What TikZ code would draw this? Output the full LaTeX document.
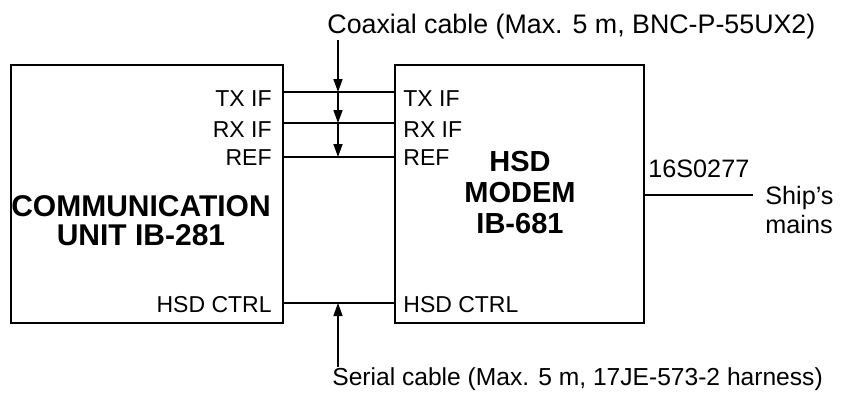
\documentclass[tikz,border=0pt]{standalone}
\usepackage{fontspec}
\setmainfont{Liberation Sans}
\usetikzlibrary{arrows.meta}

\begin{document}
\begin{tikzpicture}[x=0.5pt,y=-0.5pt,
	box/.style={draw,line width=1pt,inner sep=0pt},
	wire/.style={line width=0.8pt},
	tip/.style={wire,-{Triangle[width=4.5pt,length=6.5pt]}},
	port/.style={font=\fontsize{11.5}{14}\selectfont,inner sep=0pt},
	note/.style={font=\fontsize{12.6}{14.5}\selectfont,inner sep=0pt},
	title/.style={font=\fontsize{14.5}{15.5}\selectfont\bfseries,align=center,inner sep=0pt}]
	\useasboundingbox (0,0) rectangle (863,396);
	% units
	\node[box,minimum width=136pt,minimum height=129pt] (cu) at (147,194) {};
	\node[box,minimum width=124.5pt,minimum height=129pt] (md) at (519.5,194) {};
	\node[title,font=\fontsize{15}{14.5}\selectfont\bfseries] (cutitle) at (141,221) {COMMUNICATION\\UNIT IB-281};
	\node[title] (mdtitle) at (520,193) {HSD\\MODEM\\IB-681};
	% ports
	\foreach \p/\txt/\y/\b in {tx/TX IF/92/106, rx/RX IF/123/137, rf/REF/157/165, hsd/HSD CTRL/303/312} {
		\coordinate (cu-\p) at (283,\y);
		\coordinate (md-\p) at (395,\y);
		\node[port,anchor=base east] (cu-\p-lbl) at (272,\b) {\txt};
		\node[port,anchor=base west] (md-\p-lbl) at (403,\b) {\txt};
		\draw[wire] (cu-\p) -- (md-\p);
	}
	% cables
	\coordinate (coax) at (338,40);
	\coordinate (ser) at (338,367);
	\draw[tip] (coax) -- (coax |- cu-tx);
	\draw[tip] (coax |- cu-tx) -- (coax |- cu-rx);
	\draw[tip] (coax |- cu-rx) -- (coax |- cu-rf);
	\draw[tip] (ser) -- (ser |- cu-hsd);
	\node[note,anchor=base west,font=\fontsize{13.4}{15}\selectfont] (coaxlbl) at (327,33) {Coaxial cable (Max. 5 m, BNC-P-55UX2)};
	\node[note,anchor=base west,font=\fontsize{12.3}{14}\selectfont] (serlbl) at (332,385) {Serial cable (Max. 5 m, 17JE-573-2 harness)};
	% power
	\coordinate (md-pwr) at (644,195);
	\coordinate (mains) at (753,195);
	\draw[wire] (md-pwr) -- (mains);
	\node[note,anchor=base west] (pwrlbl) at (648,177) {16S0277};
	\node[note,anchor=west,align=left] (mainslbl) at (765,210) {Ship's\\mains};
\end{tikzpicture}
\end{document}
